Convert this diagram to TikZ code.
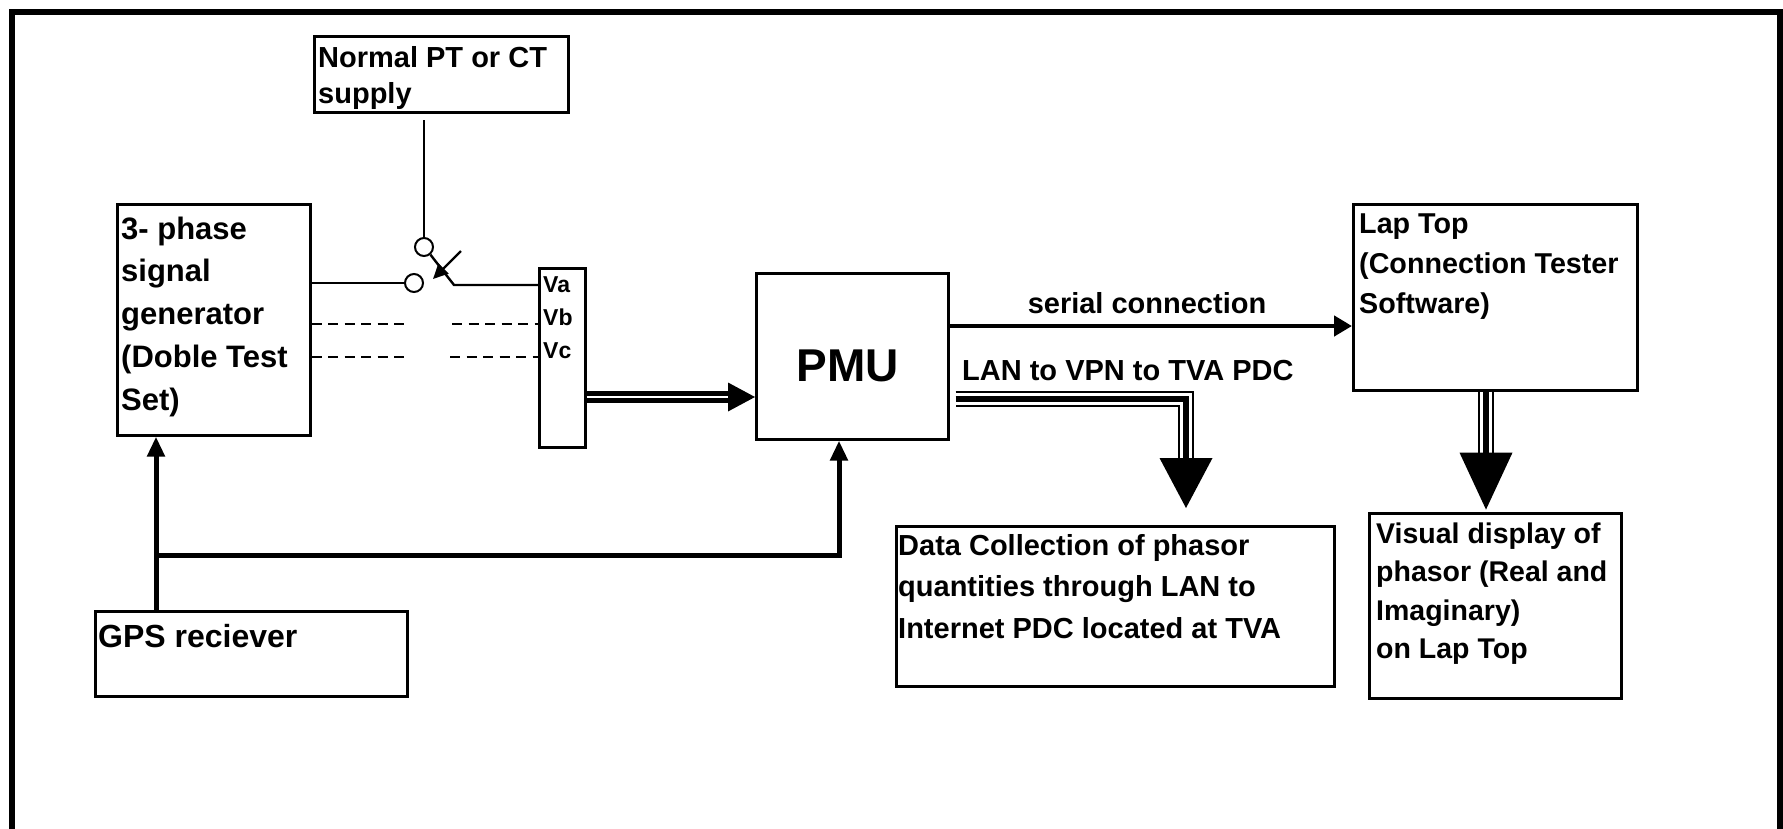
\documentclass[tikz,border=0pt]{standalone}
\usepackage{fontspec}
\setmainfont{Liberation Sans}
\usetikzlibrary{arrows.meta, positioning, calc}

\newcommand{\fs}[2]{\fontsize{#1}{#2}\selectfont\bfseries}

\tikzset{
  blk/.style={draw, line width=2.6pt, anchor=north west, inner sep=0pt},
  txt/.style={anchor=base west, align=left, inner sep=0pt},
  wire/.style={line width=2.4pt},
  dashwire/.style={line width=2pt, dash pattern=on 10pt off 6.5pt},
  pin/.style={circle, draw, line width=2pt, minimum size=18pt, inner sep=0pt, fill=white},
  gpsarrow/.style={line width=5pt, -{Triangle[length=20pt,width=17pt]}},
  triple/.style={line width=16pt, postaction={draw, white, line width=12pt},
    postaction={draw, black, line width=6pt}},
}

\begin{document}
\begin{tikzpicture}[x=1pt, y=-1pt]
\useasboundingbox (0,0) rectangle (1783,828);
% frame
\draw[line width=5.5pt] (12,860) |- (1780,12) -- (1780,860);

% blocks
\node[blk, minimum width=254pt, minimum height=76pt] (supply) at (313,35) {};
\node[blk, minimum width=193pt, minimum height=231pt] (gen) at (116,203) {};
\node[blk, minimum width=46pt, minimum height=179pt] (conn) at (538,267) {};
\node[blk, minimum width=192pt, minimum height=166pt] (pmu) at (755,272) {};
\node[blk, minimum width=284pt, minimum height=186pt] (laptop) at (1352,203) {};
\node[blk, minimum width=438pt, minimum height=160pt] (data) at (895,525) {};
\node[blk, minimum width=252pt, minimum height=185pt] (visual) at (1368,512) {};
\node[blk, minimum width=312pt, minimum height=85pt] (gps) at (94,610) {};

% texts (placed at the baseline of their last line)
\node[txt, font=\fs{29}{36}] (supplytxt) at (318,103) {Normal PT or CT\\supply};
\node[txt, font=\fs{31}{42.7}] (gentxt) at (121,410) {3- phase\\signal\\generator\\(Doble Test\\Set)};
\node[txt, font=\fs{23}{32.7}] (conntxt) at (543,358) {Va\\Vb\\Vc};
\node[anchor=base, inner sep=0pt, font=\fs{46}{50}] (pmutxt) at (848,381) {PMU};
\node[txt, font=\fs{28.7}{40}] (laptxt) at (1359,313) {Lap Top\\(Connection Tester\\Software)};
\node[txt, font=\fs{29}{41.5}] (datatxt) at (898,638) {Data Collection of phasor\\quantities through LAN to\\Internet PDC located at TVA};
\node[txt, font=\fs{28.5}{38.5}] (vistxt) at (1376,658.5) {Visual display of\\phasor (Real and\\Imaginary)\\on Lap Top};
\node[txt, font=\fs{32}{36}] (gpstxt) at (98,647) {GPS reciever};
\node[anchor=base, inner sep=0pt, font=\fs{29}{34}] (serialtxt) at (1147,313) {serial connection};
\node[txt, font=\fs{29}{34}] (lantxt) at (962,380) {LAN to VPN to TVA PDC};

% switch
\node[pin] (c1) at (424,247) {};
\node[pin] (c2) at (414,283) {};
\coordinate (feed) at (424,120);
\coordinate (sw) at (454,285);
\coordinate (armtail) at (461,251);
\coordinate (armtip) at (433,279);
\draw[wire] (feed) -- (c1);
\draw[wire] (gen.east |- c2) -- (c2);
\draw[wire] (c1.-50) -- (sw) -- (conn.west |- sw);
\draw[wire, -{Triangle[length=15pt,width=14pt]}] (armtail) -- (armtip);

% phases b and c
\coordinate (vbl) at (408,324);
\coordinate (vbr) at (452,324);
\coordinate (vcl) at (405,357);
\coordinate (vcr) at (450,357);
\draw[dashwire] (gen.east |- vbl) -- (vbl);
\draw[dashwire] (vbr) -- (conn.west |- vbr);
\draw[dashwire] (gen.east |- vcl) -- (vcl);
\draw[dashwire] (vcr) -- (conn.west |- vcr);

% conn to pmu
\coordinate (pmuin) at (pmu.west |- 0,397);
\draw[line width=12pt] (conn.east |- pmuin) -- ($(pmuin)+(-26,0)$);
\draw[white, line width=2pt] (conn.east |- pmuin) -- ($(pmuin)+(-26,0)$);
\fill (pmuin) -- ++(-27,-14.5) -- ++(0,29) -- cycle;

% serial link
\draw[line width=4.5pt, -{Triangle[length=18pt,width=20pt]}] (pmu.east |- 0,326) -- (laptop.west |- 0,326);

% LAN to PDC
\coordinate (lanstart) at ($(pmu.east |- 0,399)+(6,0)$);
\coordinate (lanend) at (1186,458);
\draw[triple] (lanstart) -| (lanend);
\fill ($(lanend)+(-26.5,0)$) -- ($(lanend)+(26.5,0)$) -- ($(lanend)+(0,50)$) -- cycle;

% laptop to display
\coordinate (lapout) at (laptop.south -| 1486,0);
\coordinate (lapend) at ($(lapout)+(0,61)$);
\draw[triple] (lapout) -- (lapend);
\fill ($(lapend)+(-26.5,0)$) -- ($(lapend)+(26.5,0)$) -- ($(lapend)+(0,57)$) -- cycle;

% GPS
\coordinate (tap) at (156,555);
\draw[gpsarrow] (gps.north -| tap) -- (gen.south -| tap);
\draw[gpsarrow] (tap) -| (pmu.south -| 839,0);
\end{tikzpicture}
\end{document}
